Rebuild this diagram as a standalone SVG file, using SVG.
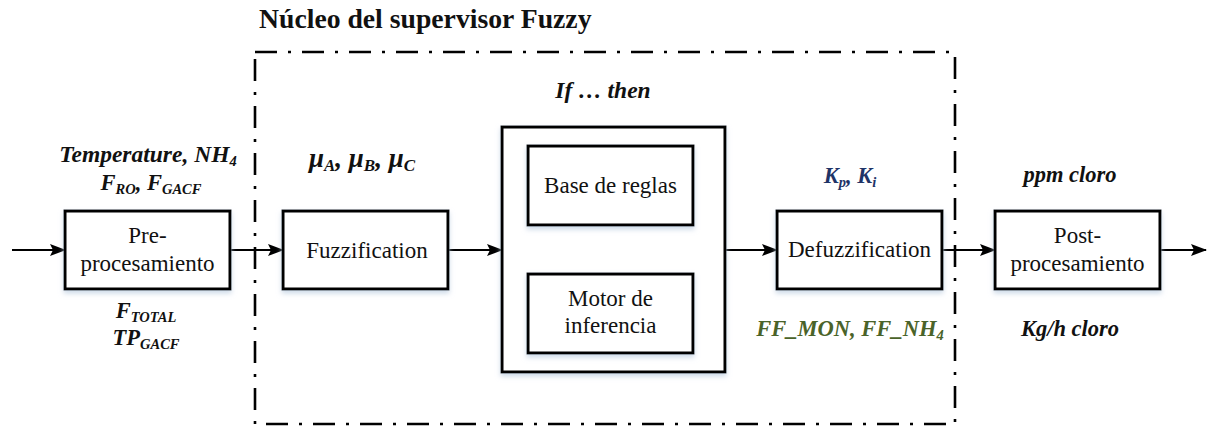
<svg xmlns="http://www.w3.org/2000/svg" width="1208" height="427" viewBox="0 0 1208 427">
<defs>
<marker id="arr" markerWidth="16" markerHeight="12" refX="15" refY="6" orient="auto" markerUnits="userSpaceOnUse">
<path d="M0,0 L16,6 L0,12 L3,6 Z" fill="#000"/>
</marker>
<filter id="sh" x="-10%" y="-10%" width="120%" height="130%">
<feDropShadow dx="0" dy="3" stdDeviation="2.5" flood-color="#b8cbe0" flood-opacity="0.7"/>
</filter>
</defs>
<style>
.box{fill:#fff;stroke:#000;stroke-width:3;filter:url(#sh)}
.t{font-family:"Liberation Serif","Times New Roman",serif;font-size:23px;fill:#111;text-anchor:middle}
.l{font-family:"Liberation Serif","Times New Roman",serif;font-size:22.5px;font-weight:bold;font-style:italic;fill:#111;text-anchor:middle}
.s{font-size:14.5px}
.title{font-family:"Liberation Serif","Times New Roman",serif;font-size:27.7px;font-weight:bold;fill:#111}
.frame{fill:none;stroke:#000;stroke-width:2.6;stroke-dasharray:22 11 3 11}
.c{fill:none;stroke:#000;stroke-width:2}
</style>
<rect width="1208" height="427" fill="#fff"/>
<text class="title" x="259" y="28">Núcleo del supervisor Fuzzy</text>
<rect class="frame" x="255" y="52" width="700" height="372"/>
<g id="connectors">
<line class="c" x1="12" y1="250" x2="65" y2="250" marker-end="url(#arr)"/>
<line class="c" x1="230" y1="250" x2="283" y2="250" marker-end="url(#arr)"/>
<line class="c" x1="448" y1="250" x2="502" y2="250" marker-end="url(#arr)"/>
<line class="c" x1="725" y1="250" x2="777" y2="250" marker-end="url(#arr)"/>
<line class="c" x1="942" y1="250" x2="995" y2="250" marker-end="url(#arr)"/>
<line class="c" x1="1160" y1="250" x2="1206" y2="250" marker-end="url(#arr)"/>
</g>
<g id="pre">
<rect class="box" x="65" y="211" width="165" height="78"/>
<text class="t" x="147.5" y="243">Pre-</text>
<text class="t" x="147.5" y="271">procesamiento</text>
</g>
<g id="fuzz">
<rect class="box" x="283" y="211" width="165" height="78"/>
<text class="t" x="367" y="258">Fuzzification</text>
</g>
<g id="inference">
<rect class="box" x="502" y="127" width="223" height="245"/>
<text class="l" x="603" y="98" style="font-size:23.5px">If … then</text>
</g>
<g id="rules">
<rect class="box" x="528" y="146" width="165" height="79"/>
<text class="t" x="610.5" y="193">Base de reglas</text>
</g>
<g id="motor">
<rect class="box" x="528" y="274" width="165" height="79"/>
<text class="t" x="610.5" y="306">Motor de</text>
<text class="t" x="610.5" y="333">inferencia</text>
</g>
<g id="defuzz">
<rect class="box" x="777" y="211" width="165" height="78"/>
<text class="t" x="859.5" y="257">Defuzzification</text>
</g>
<g id="post">
<rect class="box" x="995" y="211" width="165" height="78"/>
<text class="t" x="1077.5" y="243">Post-</text>
<text class="t" x="1077.5" y="271">procesamiento</text>
</g>
<g id="labels">
<text class="l" x="148" y="162" style="font-size:23.5px">Temperature, NH<tspan class="s" dy="4">4</tspan></text>
<text class="l" x="151" y="190">F<tspan class="s" dy="4">RO</tspan><tspan dy="-4">, F</tspan><tspan class="s" dy="4">GACF</tspan></text>
<text class="l" x="146" y="318">F<tspan class="s" dy="4">TOTAL</tspan></text>
<text class="l" x="146" y="345">TP<tspan class="s" dy="4">GACF</tspan></text>
<text class="l" x="362" y="167" style="font-size:27px">μ<tspan class="s" dy="4" style="font-size:17px">A</tspan><tspan dy="-4">, μ</tspan><tspan class="s" dy="4" style="font-size:17px">B</tspan><tspan dy="-4">, μ</tspan><tspan class="s" dy="4" style="font-size:17px">C</tspan></text>
<text class="l" x="850" y="183" style="fill:#1f3467">K<tspan class="s" dy="4">p</tspan><tspan dy="-4">, K</tspan><tspan class="s" dy="4">i</tspan></text>
<text class="l" x="850" y="336" style="fill:#4a6329">FF_MON, FF_NH<tspan class="s" dy="4">4</tspan></text>
<text class="l" x="1070" y="182">ppm cloro</text>
<text class="l" x="1070" y="336">Kg/h cloro</text>
</g>
</svg>
